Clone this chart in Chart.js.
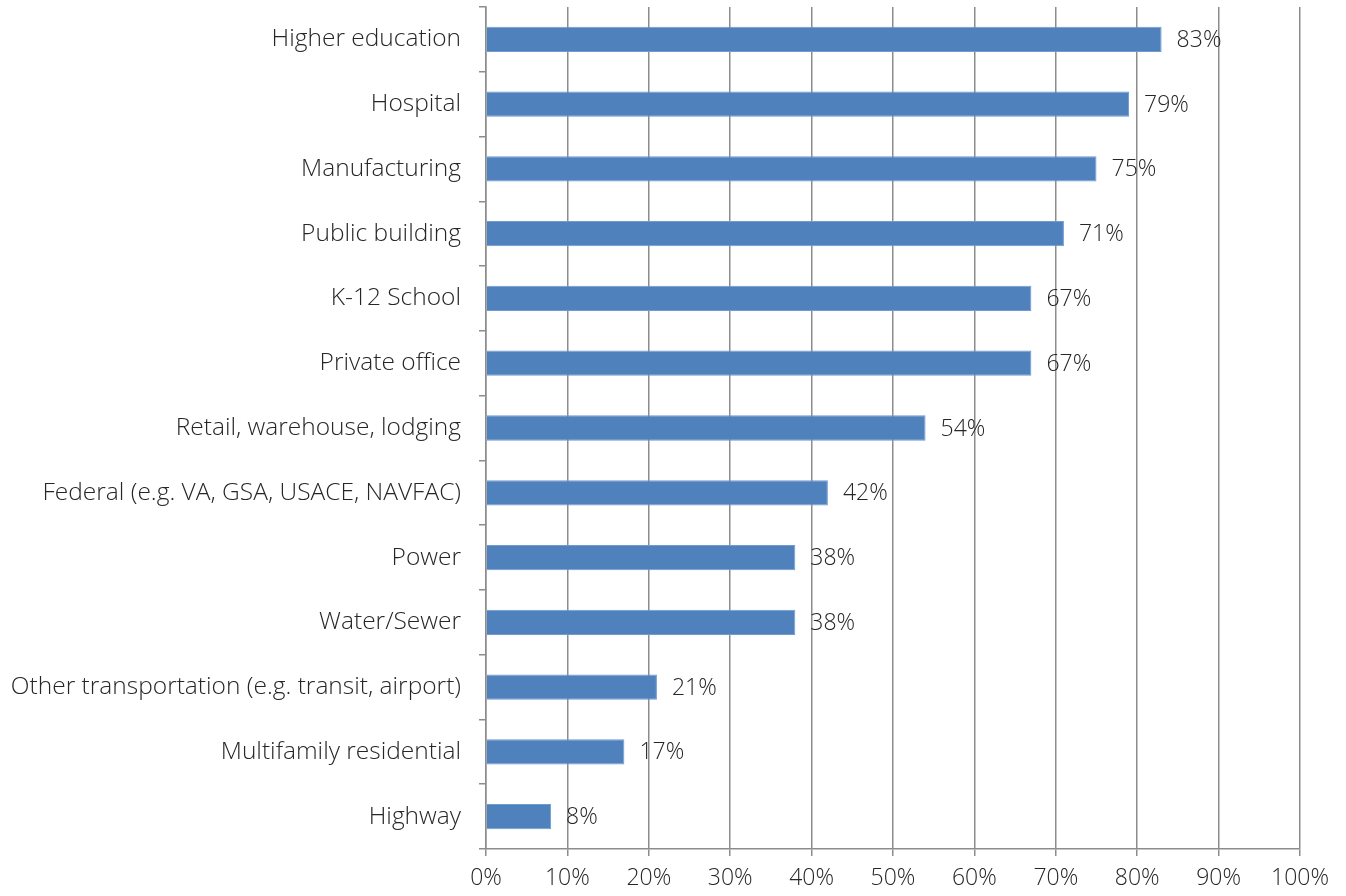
<!DOCTYPE html>
<html>
<head>
<meta charset="utf-8">
<script src="https://cdn.jsdelivr.net/npm/chart.js@4.4.0/dist/chart.umd.min.js"></script>
<style>
  html, body { margin:0; padding:0; background:#fff; }
  #wrap { width:1346px; height:896px; }
</style>
</head>
<body>
<div id="wrap"><canvas id="chart" width="1346" height="896"></canvas></div>
<script>
// sectors, top to bottom
const categories = [
  'Higher education', 'Hospital', 'Manufacturing', 'Public building', 'K-12 School',
  'Private office', 'Retail, warehouse, lodging', 'Federal (e.g. VA, GSA, USACE, NAVFAC)',
  'Power', 'Water/Sewer', 'Other transportation (e.g. transit, airport)',
  'Multifamily residential', 'Highway'
];
const shares = [83, 79, 75, 71, 67, 67, 54, 42, 38, 38, 21, 17, 8];
const xTicks = [0, 10, 20, 30, 40, 50, 60, 70, 80, 90, 100];

const FONT = "'Open Sans', 'Liberation Sans', sans-serif";
const gridGray = '#8c8c8c';
const textColor = '#262626';

// value labels just right of each bar
const barLabels = {
  id: 'barLabels',
  afterDatasetsDraw(chart){
    const ctx = chart.ctx;
    const meta = chart.getDatasetMeta(0);
    ctx.save();
    ctx.font = '300 23px ' + FONT;
    ctx.fillStyle = textColor;
    ctx.textAlign = 'left';
    ctx.textBaseline = 'middle';
    meta.data.forEach((bar, i) => {
      ctx.fillText(shares[i] + '%', bar.x + 15, bar.y + 1);
    });
    ctx.restore();
  }
};

new Chart(document.getElementById('chart'), {
  type: 'bar',
  data: {
    labels: categories,
    datasets: [{
      data: shares,
      backgroundColor: '#4f81bd',
      borderColor: '#6f9bd1',
      borderWidth: 1,
      barPercentage: 0.39,
      categoryPercentage: 1
    }]
  },
  options: {
    indexAxis: 'y',
    responsive: false,
    animation: false,
    layout: { padding: { top: 7, right: 46, left: 0, bottom: 0 } },
    plugins: { legend: { display: false }, tooltip: { enabled: false } },
    scales: {
      x: {
        min: 0, max: 100,
        afterBuildTicks: s => { s.ticks = xTicks.map(v => ({ value: v })); },
        afterFit: s => { s.height = 47; s.paddingLeft = 0; s.paddingRight = 0; },
        grid: { color: gridGray, lineWidth: 1.5, tickLength: 7, drawOnChartArea: true },
        border: { color: gridGray, width: 1.5 },
        ticks: {
          color: textColor, padding: 9,
          font: { family: FONT, size: 23, weight: 300 },
          callback: v => v + '%', maxRotation: 0
        }
      },
      y: {
        afterFit: s => { s.width = 486; s.paddingTop = 0; s.paddingBottom = 0; },
        grid: { offset: true, drawOnChartArea: false, color: gridGray, lineWidth: 1.5, tickLength: 7 },
        border: { color: gridGray, width: 1.5 },
        ticks: {
          color: textColor, padding: 18,
          font: { family: FONT, size: 24.5, weight: 300 }
        }
      }
    }
  },
  plugins: [barLabels]
});
</script>
</body>
</html>
